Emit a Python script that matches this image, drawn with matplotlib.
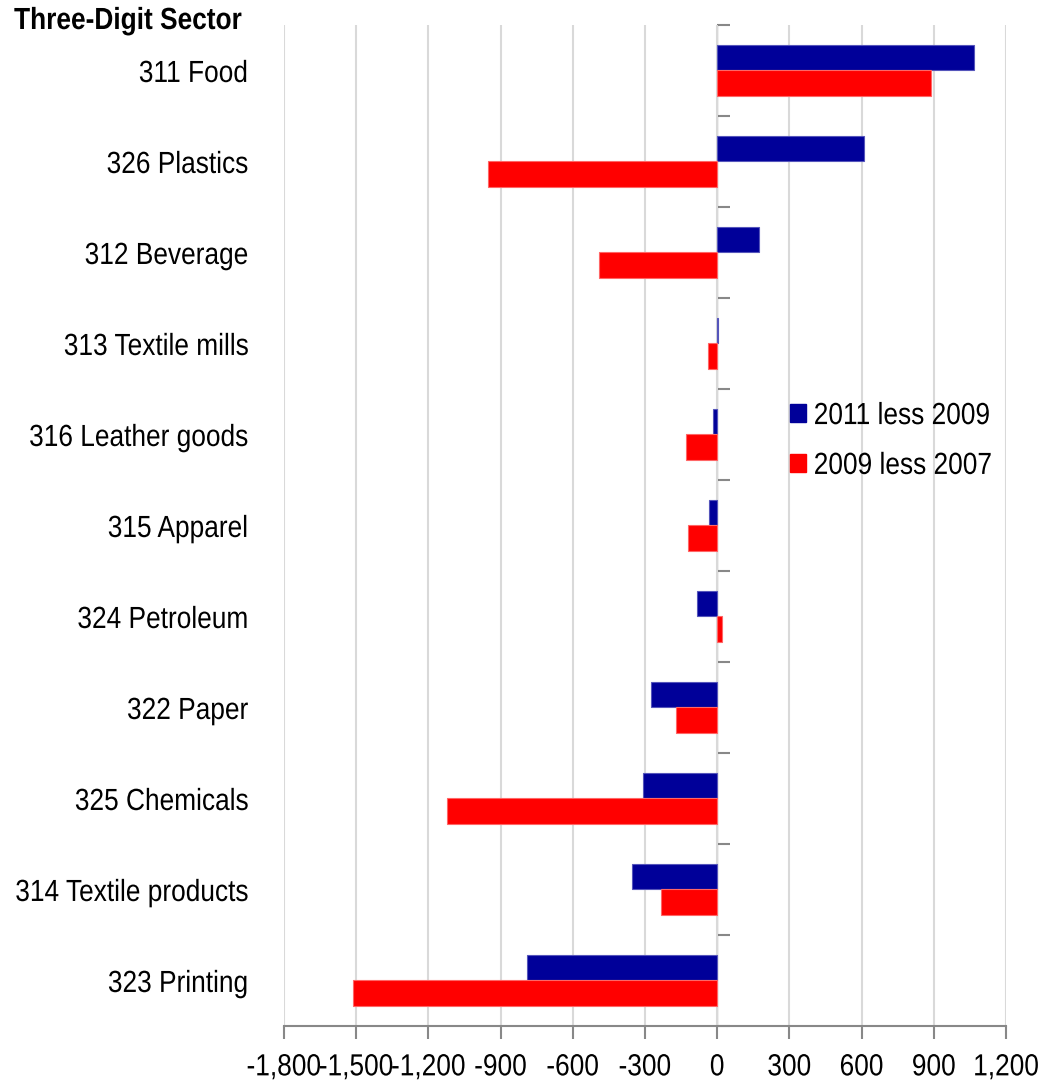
import numpy as np
import matplotlib
matplotlib.use('Agg')
import matplotlib.pyplot as plt
from matplotlib.ticker import FuncFormatter
from matplotlib.patches import Patch
from matplotlib.patheffects import AbstractPathEffect
from matplotlib.transforms import Affine2D

# data (top to bottom)
sectors = ['311 Food', '326 Plastics', '312 Beverage', '313 Textile mills',
           '316 Leather goods', '315 Apparel', '324 Petroleum', '322 Paper',
           '325 Chemicals', '314 Textile products', '323 Printing']
change_2011_2009 = [1065, 610, 174, 2, -18, -35, -82, -277, -307, -354, -789]
change_2009_2007 = [890, -953, -490, -40, -131, -120, 19, -170, -1121, -233, -1515]
series_names = ['2011 less 2009', '2009 less 2007']
x_ticks = np.arange(-1800, 1201, 300)

blue = '#000099'
red = '#ff0000'
grid = '#d9d9d9'
axis_grey = '#888888'


class Condensed(AbstractPathEffect):
    # squeeze text horizontally, no narrow font installed
    def __init__(self, anchor='center', sx=0.86):
        super().__init__()
        self.anchor = anchor
        self.sx = sx

    def draw_path(self, renderer, gc, tpath, affine, rgbFace=None):
        ext = tpath.get_extents(affine)
        x0 = {'left': ext.x0, 'right': ext.x1, 'center': (ext.x0 + ext.x1) / 2}[self.anchor]
        aff = affine + Affine2D().translate(-x0, 0).scale(self.sx, 1).translate(x0, 0)
        renderer.draw_path(gc, tpath, aff, rgbFace)


plt.rcParams['font.family'] = ['Liberation Sans', 'DejaVu Sans']

fig = plt.figure(figsize=(10.54, 10.81), dpi=100)
ax = fig.add_axes([0.2694, 0.0509, 0.6851, 0.926])

y = np.arange(len(sectors))
h = 0.285
ax.barh(y - h / 2, change_2011_2009, height=h, color=blue, edgecolor='#5555bb', lw=0.8, zorder=3)
ax.barh(y + h / 2, change_2009_2007, height=h, color=red, edgecolor='#ff6666', lw=0.8, zorder=3)

ax.set_xlim(x_ticks[0], x_ticks[-1])
ax.set_ylim(len(sectors) - 0.5, -0.5)  # first sector at the top

# vertical grid lines
ax.set_xticks(x_ticks)
ax.xaxis.grid(True, color=grid, lw=1.5, zorder=0)
ax.xaxis.set_major_formatter(FuncFormatter(lambda v, p: '{:,.0f}'.format(v)))
ax.tick_params(axis='x', direction='out', length=9, width=1.5, color=axis_grey,
               labelsize=22, pad=10)
for lab in ax.get_xticklabels():
    lab.set_path_effects([Condensed('center')])

# category labels on the left, no tick marks
ax.set_yticks(y)
ax.set_yticklabels(sectors)
ax.tick_params(axis='y', length=0, labelsize=22, pad=26)
for lab in ax.get_yticklabels():
    lab.set_path_effects([Condensed('right')])

for s in ['top', 'right', 'left']:
    ax.spines[s].set_visible(False)
ax.spines['bottom'].set_color(axis_grey)
ax.spines['bottom'].set_linewidth(1.5)

# zero axis with tick marks between categories
zero_pos = (0 - x_ticks[0]) / (x_ticks[-1] - x_ticks[0])
sec = ax.secondary_yaxis(zero_pos)
sec.set_yticks(np.arange(len(sectors) + 1) - 0.5)
sec.set_yticklabels([])
sec.tick_params(axis='y', direction='out', length=9, width=1.5, color=axis_grey)
sec.spines['left'].set_color(axis_grey)
sec.spines['left'].set_linewidth(1.5)

title = fig.text(14 / 1054, 1 - 21 / 1081, 'Three-Digit Sector', fontsize=22, fontweight='bold',
                 ha='left', va='center')
title.set_path_effects([Condensed('left')])

handles = [Patch(color=blue), Patch(color=red)]
leg = ax.legend(handles, series_names, loc='center left', bbox_to_anchor=(790 / 1054, 1 - 441 / 1081),
                bbox_transform=fig.transFigure, frameon=False, fontsize=22, borderpad=0,
                borderaxespad=0, handlelength=0.52, handleheight=0.52, handletextpad=0.25,
                labelspacing=0.65)
for t in leg.get_texts():
    t.set_path_effects([Condensed('left')])

fig.savefig('out.png', dpi=100)
